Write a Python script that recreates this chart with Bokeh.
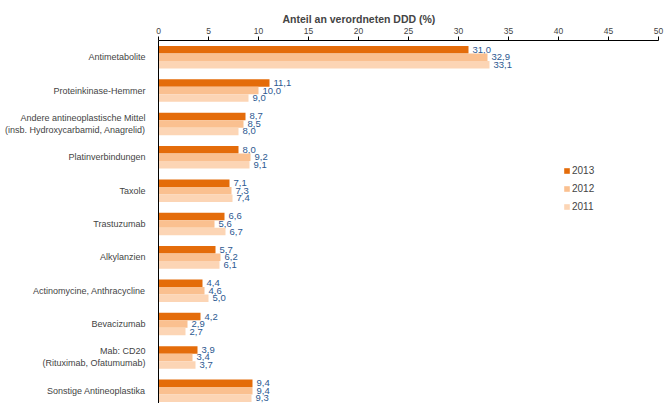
from bokeh.plotting import figure
from bokeh.models import ColumnDataSource, Range1d, FixedTicker, Legend, LegendItem, Title
from bokeh.core.properties import value
from bokeh.embed import file_html
from bokeh.resources import INLINE

categories = [
    "Antimetabolite",
    "Proteinkinase-Hemmer",
    "Andere antineoplastische Mittel\n(insb. Hydroxycarbamid, Anagrelid)",
    "Platinverbindungen",
    "Taxole",
    "Trastuzumab",
    "Alkylanzien",
    "Actinomycine, Anthracycline",
    "Bevacizumab",
    "Mab: CD20\n(Rituximab, Ofatumumab)",
    "Sonstige Antineoplastika",
]
years = ["2013", "2012", "2011"]
v2013 = [31.0, 11.1, 8.7, 8.0, 7.1, 6.6, 5.7, 4.4, 4.2, 3.9, 9.4]
v2012 = [32.9, 10.0, 8.5, 9.2, 7.3, 5.6, 6.2, 4.6, 2.9, 3.4, 9.4]
v2011 = [33.1, 9.0, 8.0, 9.1, 7.4, 6.7, 6.1, 5.0, 2.7, 3.7, 9.3]
x_ticks = [0, 5, 10, 15, 20, 25, 30, 35, 40, 45, 50]

series = [v2013, v2012, v2011]
colors = ["#E46C0A", "#FAC090", "#FCD5B5"]
offsets = [-0.225, 0.0, 0.225]
FONT = "Liberation Sans"

p = figure(width=669, height=403, output_backend="svg", toolbar_location=None,
           x_range=Range1d(0, 50), y_range=Range1d(10.38, -0.5),
           x_axis_location="above", min_border_left=158, min_border_right=11,
           min_border_top=40, min_border_bottom=0, outline_line_color=None)
p.grid.visible = False
p.background_fill_color = "white"

items = []
for vals, col, off, yr in zip(series, colors, offsets, years):
    ys = [i + off for i in range(len(categories))]
    src = ColumnDataSource(dict(y=ys, v=vals,
                                lbl=[f"{v:.1f}".replace(".", ",") for v in vals]))
    r = p.hbar(y="y", left=0, right="v", height=0.225, source=src,
               fill_color=col, line_color=None)
    p.text(x="v", y="y", text="lbl", source=src, x_offset=4,
           text_font=value(FONT), text_font_size="9.5px", text_color="#2C5890",
           text_baseline="middle", text_align="left")
    items.append(LegendItem(label=yr, renderers=[r]))

# top value axis
xa = p.xaxis[0]
xa.ticker = FixedTicker(ticks=x_ticks)
xa.major_label_text_font = FONT
xa.major_label_text_font_size = "8.5px"
xa.major_label_standoff = 3
xa.major_tick_in = 0
xa.major_tick_out = 4
xa.minor_tick_line_color = None
xa.axis_line_color = "black"
xa.major_tick_line_color = "black"

p.add_layout(Title(text="Anteil an verordneten DDD (%)", align="left", offset=124,
                   text_font=FONT, text_font_style="bold", text_font_size="10.5px",
                   standoff=0), "above")

# category axis
ya = p.yaxis[0]
ya.ticker = FixedTicker(ticks=list(range(len(categories))))
ya.major_label_overrides = {i: c for i, c in enumerate(categories)}
ya.major_label_text_font = FONT
ya.major_label_text_font_size = "9px"
ya.major_label_text_align = "right"
ya.major_label_standoff = 7
ya.major_tick_line_color = None
ya.minor_tick_line_color = None
ya.axis_line_color = "black"

legend = Legend(items=items, location=(405, 191), glyph_width=7, glyph_height=7,
                label_text_font=FONT, label_text_font_size="10px",
                label_height=10, spacing=7, padding=0, label_standoff=2,
                border_line_color=None, background_fill_alpha=0)
p.add_layout(legend, "center")

open("out.html", "w").write(file_html(p, INLINE))
